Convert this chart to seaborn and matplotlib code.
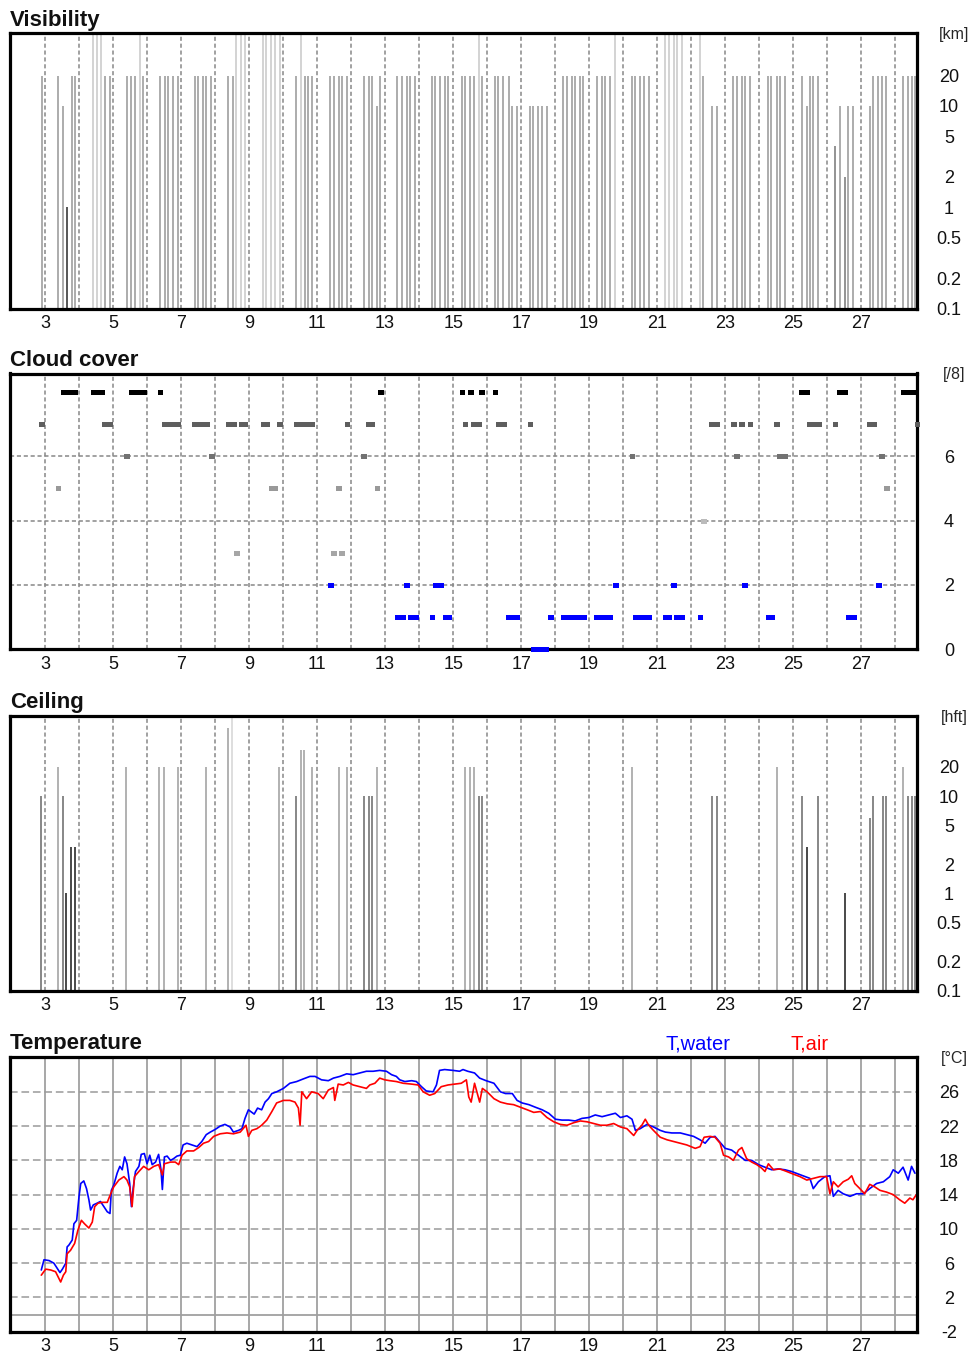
import matplotlib
matplotlib.use('Agg')
import matplotlib.pyplot as plt
import seaborn as sns

# ---- Visibility [km], one value per observation ----
vis_day = [2.90,
           3.39, 3.54, 3.64, 3.78, 3.88,
           4.42, 4.52, 4.66, 4.76, 4.91,
           5.40, 5.54, 5.64, 5.79, 5.89,
           6.38, 6.52, 6.62, 6.77, 6.91,
           7.40, 7.50, 7.65, 7.74, 7.89,
           8.38, 8.53, 8.62, 8.77, 8.87,
           9.41, 9.51, 9.65, 9.75, 9.90,
           10.39, 10.53, 10.63, 10.73, 10.85,
           11.39, 11.49, 11.64, 11.73, 11.88,
           12.37, 12.52, 12.61, 12.76, 12.86,
           13.35, 13.50, 13.64, 13.74, 13.89,
           14.38, 14.47, 14.62, 14.77, 14.86,
           15.26, 15.35, 15.50, 15.60, 15.75, 15.84,
           16.23, 16.33, 16.48, 16.63, 16.72, 16.87,
           17.26, 17.36, 17.51, 17.60, 17.75,
           18.24, 18.34, 18.49, 18.58, 18.73, 18.83,
           19.22, 19.37, 19.46, 19.61, 19.77,
           20.26, 20.36, 20.50, 20.60, 20.75,
           21.24, 21.34, 21.48, 21.58, 21.73,
           22.26, 22.36, 22.61, 22.75,
           23.24, 23.34, 23.49, 23.58, 23.73,
           24.27, 24.36, 24.51, 24.61, 24.76,
           25.25, 25.40, 25.49, 25.59, 25.74,
           26.23, 26.37, 26.52, 26.62, 26.77,
           27.25, 27.35, 27.50, 27.60, 27.74,
           28.23, 28.38, 28.48, 28.58]
vis_km = [20,
          20, 10, 1, 20, 20,
          50, 50, 50, 20, 20,
          20, 20, 20, 50, 20,
          20, 20, 20, 20, 20,
          20, 20, 20, 20, 20,
          20, 20, 50, 50, 50,
          50, 50, 50, 50, 50,
          20, 50, 20, 20, 20,
          20, 20, 20, 20, 20,
          20, 20, 20, 10, 20,
          20, 20, 20, 20, 20,
          20, 20, 20, 20, 20,
          20, 20, 20, 20, 50, 20,
          20, 20, 20, 20, 10, 10,
          10, 10, 10, 10, 10,
          20, 20, 20, 20, 20, 20,
          20, 20, 20, 20, 50,
          20, 20, 20, 20, 20,
          50, 50, 50, 50, 50,
          50, 20, 10, 10,
          20, 20, 20, 20, 20,
          20, 20, 20, 20, 20,
          20, 10, 20, 20, 20,
          4, 10, 2, 10, 10,
          10, 20, 20, 20, 20,
          20, 20, 20, 20]

# ---- Cloud cover [/8] ----
cloud_day = [3.53, 3.63, 3.78, 3.88, 4.42, 4.52, 4.66, 5.54, 5.64, 5.79, 5.89, 6.38,
             12.86, 15.26, 15.50, 15.84, 16.23, 25.25, 25.40, 26.37, 26.52,
             28.23, 28.38, 28.48, 28.58,
             2.90, 4.76, 4.91, 6.52, 6.62, 6.77, 6.91, 7.40, 7.50, 7.65, 7.74,
             8.38, 8.53, 8.77, 8.87, 9.41, 9.51, 9.90, 10.39, 10.53, 10.63, 10.73,
             10.83, 11.88, 12.52, 12.61, 15.35, 15.60, 15.75, 16.33, 16.48, 17.26,
             22.61, 22.75, 23.24, 23.49, 23.73, 24.51, 25.49, 25.59, 25.74, 26.23,
             27.25, 27.35, 28.64,
             5.40, 7.89, 12.37, 20.26, 23.34, 24.61, 24.76, 27.60,
             3.38, 9.65, 9.75, 11.64, 12.76, 27.74,
             22.36,
             8.62, 11.49, 11.73,
             11.39, 13.64, 14.47, 14.62, 19.77, 21.48, 23.58, 27.50,
             13.35, 13.50, 13.74, 13.89, 14.38, 14.77, 14.86, 16.63, 16.72, 16.87,
             17.86, 18.24, 18.34, 18.49, 18.58, 18.73, 18.83, 19.22, 19.37, 19.46,
             19.61, 20.36, 20.50, 20.60, 20.75, 21.24, 21.34, 21.58, 21.73, 22.26,
             24.27, 24.36, 26.62, 26.77,
             17.36, 17.51, 17.60, 17.72]
cloud_okta = [8, 8, 8, 8, 8, 8, 8, 8, 8, 8, 8, 8,
              8, 8, 8, 8, 8, 8, 8, 8, 8,
              8, 8, 8, 8,
              7, 7, 7, 7, 7, 7, 7, 7, 7, 7, 7,
              7, 7, 7, 7, 7, 7, 7, 7, 7, 7, 7,
              7, 7, 7, 7, 7, 7, 7, 7, 7, 7,
              7, 7, 7, 7, 7, 7, 7, 7, 7, 7,
              7, 7, 7,
              6, 6, 6, 6, 6, 6, 6, 6,
              5, 5, 5, 5, 5, 5,
              4,
              3, 3, 3,
              2, 2, 2, 2, 2, 2, 2, 2,
              1, 1, 1, 1, 1, 1, 1, 1, 1, 1,
              1, 1, 1, 1, 1, 1, 1, 1, 1, 1,
              1, 1, 1, 1, 1, 1, 1, 1, 1, 1,
              1, 1, 1, 1,
              0, 0, 0, 0]

# ---- Ceiling [hft] ----
ceil_day = [2.89, 3.38, 3.53, 3.63, 3.77, 3.87, 5.39, 6.36, 6.51, 6.90, 7.73,
            8.37, 8.51, 9.88, 10.37, 10.52, 10.62, 10.86, 11.64, 11.89,
            12.37, 12.52, 12.62, 12.77, 15.36, 15.51, 15.61, 15.75, 15.85,
            20.26, 22.61, 22.75, 24.51, 25.25, 25.40, 25.74, 26.52,
            27.25, 27.35, 27.64, 27.74, 28.23, 28.38, 28.48, 28.58]
ceil_hft = [10, 20, 10, 1, 3, 3, 20, 20, 20, 20, 20,
            50, 100, 20, 10, 30, 30, 20, 20, 20,
            10, 10, 10, 20, 20, 20, 20, 10, 10,
            20, 10, 10, 20, 10, 3, 10, 1,
            6, 10, 10, 10, 20, 10, 10, 10]

# ---- Temperature [°C] ----
water_day = [2.89, 2.97, 3.12, 3.26, 3.36, 3.44, 3.51, 3.61, 3.65, 3.70,
             3.80, 3.85, 3.93, 4.00, 4.05, 4.14, 4.22, 4.29, 4.34, 4.42,
             4.53, 4.63, 4.73, 4.83, 4.91, 4.95, 5.02, 5.12, 5.20, 5.27,
             5.34, 5.41, 5.49, 5.54, 5.59, 5.66, 5.76, 5.83, 5.92, 6.00,
             6.08, 6.15, 6.25, 6.34, 6.41, 6.45, 6.51, 6.59, 6.69, 6.78,
             6.88, 6.98, 7.06, 7.17, 7.32, 7.47, 7.61, 7.74, 7.86, 8.00,
             8.15, 8.29, 8.44, 8.54, 8.69, 8.79, 8.88, 8.98, 9.05, 9.15,
             9.25, 9.37, 9.47, 9.57, 9.67, 9.81, 10.01, 10.20, 10.40, 10.59,
             10.79, 10.94, 11.13, 11.33, 11.48, 11.67, 11.87, 12.06, 12.26, 12.45,
             12.65, 12.84, 13.04, 13.19, 13.33, 13.43, 13.58, 13.78, 13.92, 14.07,
             14.21, 14.41, 14.51, 14.60, 14.75, 15.00, 15.19, 15.29, 15.43, 15.63,
             15.78, 15.97, 16.20, 16.39, 16.54, 16.74, 16.88, 17.03, 17.23, 17.42,
             17.62, 17.81, 18.01, 18.20, 18.40, 18.59, 18.79, 18.99, 19.18, 19.38,
             19.57, 19.77, 19.92, 20.11, 20.26, 20.36, 20.50, 20.70, 20.89, 21.09,
             21.24, 21.43, 21.68, 21.87, 22.07, 22.26, 22.41, 22.56, 22.70, 22.85,
             23.00, 23.19, 23.39, 23.59, 23.78, 23.98, 24.17, 24.37, 24.56, 24.76,
             24.95, 25.15, 25.35, 25.49, 25.59, 25.74, 25.93, 26.08, 26.18, 26.32,
             26.47, 26.67, 26.86, 27.06, 27.25, 27.45, 27.65, 27.84, 27.94, 28.09,
             28.23, 28.38, 28.48, 28.58]
water_temp = [5.2, 6.4, 6.3, 6.0, 5.4, 4.9, 5.3, 6.0, 7.9, 8.1,
              8.7, 10.6, 11.0, 13.8, 15.3, 15.6, 14.7, 13.4, 12.2, 12.8,
              13.0, 13.2, 12.6, 12.0, 11.8, 14.5, 15.1, 16.5, 17.3, 16.9,
              18.4, 17.6, 15.3, 12.6, 14.7, 16.7, 17.3, 18.7, 18.8, 17.6,
              18.6, 17.5, 17.8, 18.7, 16.9, 14.6, 18.4, 18.5, 18.0, 18.2,
              18.5, 18.6, 19.8, 20.0, 19.8, 19.6, 20.2, 21.0, 21.3, 21.6,
              22.0, 22.2, 21.9, 21.3, 21.5, 21.7, 22.9, 23.9, 23.7, 23.4,
              24.1, 23.9, 24.8, 25.2, 25.8, 26.0, 26.4, 27.0, 27.2, 27.5,
              27.8, 27.8, 27.4, 27.3, 27.6, 27.8, 28.1, 28.0, 28.2, 28.4,
              28.4, 28.5, 28.4, 28.0, 27.8, 27.4, 27.2, 27.3, 27.2, 26.6,
              26.1, 26.0, 26.8, 28.5, 28.6, 28.5, 28.4, 28.6, 28.4, 28.2,
              27.6, 27.3, 27.0, 26.0, 25.8, 25.8, 25.0, 24.7, 24.5, 24.2,
              23.9, 23.5, 22.8, 22.7, 22.7, 22.6, 22.9, 23.0, 23.3, 23.1,
              23.3, 23.5, 23.0, 23.2, 22.8, 21.5, 21.7, 22.2, 21.9, 21.5,
              21.3, 21.2, 21.2, 21.0, 20.8, 20.4, 20.0, 20.7, 20.8, 20.1,
              19.4, 19.2, 18.6, 18.0, 18.0, 17.5, 17.2, 16.9, 17.0, 16.9,
              16.7, 16.4, 16.1, 15.9, 14.7, 15.5, 16.1, 16.2, 13.8, 14.5,
              14.1, 13.8, 14.1, 14.1, 14.7, 15.3, 15.5, 16.1, 16.9, 16.5,
              17.2, 15.7, 17.3, 16.5]
air_day = [2.89, 3.02, 3.17, 3.31, 3.41, 3.46, 3.54, 3.61, 3.65, 3.75,
           3.87, 3.97, 4.07, 4.16, 4.29, 4.39, 4.46, 4.56, 4.68, 4.83,
           4.93, 5.02, 5.17, 5.32, 5.41, 5.49, 5.56, 5.63, 5.76, 5.90,
           6.05, 6.20, 6.34, 6.45, 6.51, 6.69, 6.83, 6.93, 7.03, 7.17,
           7.37, 7.52, 7.66, 7.81, 7.96, 8.15, 8.35, 8.54, 8.74, 8.91,
           8.98, 9.08, 9.23, 9.37, 9.52, 9.67, 9.81, 10.01, 10.20, 10.35,
           10.45, 10.50, 10.55, 10.69, 10.84, 11.03, 11.18, 11.33, 11.48, 11.52,
           11.62, 11.77, 11.92, 12.06, 12.26, 12.45, 12.55, 12.70, 12.84, 12.99,
           13.14, 13.33, 13.53, 13.78, 13.97, 14.12, 14.31, 14.46, 14.65, 14.85,
           15.04, 15.24, 15.39, 15.46, 15.53, 15.63, 15.78, 15.86, 16.00, 16.20,
           16.39, 16.59, 16.78, 16.98, 17.18, 17.37, 17.57, 17.76, 17.96, 18.15,
           18.35, 18.55, 18.74, 18.94, 19.13, 19.33, 19.52, 19.72, 19.92, 20.11,
           20.31, 20.41, 20.55, 20.65, 20.75, 20.89, 21.09, 21.29, 21.48, 21.68,
           21.87, 22.12, 22.26, 22.38, 22.56, 22.70, 22.85, 22.95, 23.10, 23.24,
           23.39, 23.49, 23.63, 23.78, 23.93, 24.07, 24.17, 24.27, 24.42, 24.61,
           24.81, 25.00, 25.20, 25.40, 25.59, 25.79, 25.98, 26.08, 26.18, 26.32,
           26.47, 26.62, 26.72, 26.81, 26.96, 27.10, 27.25, 27.40, 27.55, 27.74,
           27.94, 28.13, 28.28, 28.43, 28.52, 28.62]
air_temp = [4.6, 5.3, 5.2, 5.0, 4.2, 3.8, 4.6, 5.0, 7.1, 7.5,
            8.3, 9.9, 11.0, 10.6, 10.1, 10.8, 12.6, 13.0, 13.1, 13.1,
            14.1, 14.9, 15.7, 16.1, 15.7, 14.9, 12.6, 16.1, 16.7, 17.3,
            16.9, 17.3, 17.5, 16.3, 17.6, 17.8, 17.8, 17.5, 18.6, 19.1,
            19.1, 19.5, 20.0, 20.2, 20.8, 21.1, 21.2, 21.1, 21.3, 22.1,
            20.8, 21.5, 21.7, 22.1, 22.7, 23.7, 24.7, 25.0, 25.0, 24.8,
            24.1, 22.1, 26.0, 25.2, 26.0, 25.8, 25.2, 26.2, 26.5, 25.0,
            26.9, 26.8, 27.1, 26.8, 26.6, 26.4, 26.8, 27.0, 27.6, 27.4,
            27.3, 27.2, 27.0, 26.9, 26.8, 26.0, 25.6, 25.8, 26.6, 26.8,
            26.9, 27.0, 27.4, 25.4, 24.8, 27.0, 24.8, 26.4, 26.0, 25.2,
            24.8, 24.6, 24.5, 24.2, 23.9, 23.6, 23.7, 23.0, 22.5, 22.2,
            22.1, 22.4, 22.6, 22.5, 22.3, 22.1, 22.1, 22.3, 21.9, 21.7,
            20.9, 21.5, 22.1, 22.8, 22.1, 21.5, 20.7, 20.4, 20.2, 20.0,
            19.8, 19.4, 19.6, 20.7, 20.8, 20.7, 20.0, 18.6, 18.4, 18.0,
            19.2, 19.5, 18.2, 17.8, 17.5, 17.1, 16.7, 17.6, 16.9, 17.0,
            16.7, 16.4, 16.1, 15.7, 15.9, 16.1, 16.1, 14.1, 15.5, 14.9,
            15.5, 15.8, 16.2, 15.3, 14.7, 14.1, 15.2, 14.9, 14.5, 14.3,
            14.0, 13.4, 13.0, 13.6, 13.4, 14.0]

day_ticks = list(range(2, 29))
log_ticks = [0.1, 0.2, 0.5, 1, 2, 5, 10, 20]
log_labels = ['0.1', '0.2', '0.5', '1', '2', '5', '10', '20']
cloud_ticks = [0, 2, 4, 6]
temp_ticks = [-2, 2, 6, 10, 14, 18, 22, 26]

sns.set_theme(style='white')
plt.rcParams['font.family'] = ['Liberation Sans', 'DejaVu Sans']

fig = plt.figure(figsize=(9.74, 13.58), dpi=100)
FW, FH = 974, 1358


def panel(top, bottom):
    return fig.add_axes([10 / FW, 1 - bottom / FH, 907 / FW, (bottom - top) / FH])


def style(ax, title, unit, yticks, ylabels):
    ax.set_xlim(1.97, 28.64)
    ax.set_xticks(day_ticks)
    ax.set_xticklabels([str(d) if d % 2 else '' for d in day_ticks])
    ax.yaxis.tick_right()
    ax.set_yticks(yticks)
    ax.set_yticklabels(ylabels, ha='center')
    ax.minorticks_off()
    ax.tick_params(axis='both', length=0, labelsize=13, colors='#111111')
    ax.tick_params(axis='x', pad=4.5)
    ax.tick_params(axis='y', pad=23)
    ax.set_xlabel('')
    ax.set_ylabel('')
    for s in ax.spines.values():
        s.set_visible(True)
        s.set_linewidth(2.3)
        s.set_color('black')
    ax.annotate(title, xy=(0, 1), xycoords='axes fraction', xytext=(0, 5.5),
                textcoords='offset points', fontsize=16, fontweight='bold',
                ha='left', va='baseline', color='#111111')
    ax.text(1.0413, 0.995, unit, transform=ax.transAxes, ha='center',
            va='center', fontsize=11.5)
    ax.set_axisbelow(True)


dash_grid = dict(color='#888888', linestyle=(0, (2.7, 1.8)), linewidth=1.1)


def vis_color(v):
    if v >= 50:
        return '#cccccc'
    if v >= 10:
        return '#9e9e9e'
    if v >= 2:
        return '#808080'
    return '#3a3a3a'


def ceil_color(v):
    if v >= 100:
        return '#d8d8d8'
    if v >= 20:
        return '#a4a4a4'
    if v >= 5:
        return '#737373'
    return '#2a2a2a'


cloud_colors = {8: '#000000', 7: '#5e5e5e', 6: '#727272', 5: '#999999',
                4: '#bbbbbb', 3: '#a6a6a6', 2: '#0000ff', 1: '#0000ff', 0: '#0000ff'}

# Visibility
ax1 = panel(33.5, 308.5)
ax1.set_yscale('log')
ax1.set_ylim(0.1, 52)
ax1.grid(axis='x', **dash_grid)
ax1.vlines(vis_day, 0.09, vis_km, colors=[vis_color(v) for v in vis_km], lw=1.2)
style(ax1, 'Visibility', '[km]', log_ticks, log_labels)

# Cloud cover
ax2 = panel(373.5, 649.3)
ax2.set_ylim(0, 8.57)
ax2.grid(axis='both', **dash_grid)
ax2.hlines(cloud_okta, [d - 0.072 for d in cloud_day], [d + 0.072 for d in cloud_day],
           colors=[cloud_colors[o] for o in cloud_okta], lw=3.4, clip_on=False,
           zorder=5, antialiased=False)
style(ax2, 'Cloud cover', '[/8]', cloud_ticks, [str(t) for t in cloud_ticks])

# Ceiling
ax3 = panel(715.7, 990.7)
ax3.set_yscale('log')
ax3.set_ylim(0.1, 67)
ax3.grid(axis='x', **dash_grid)
ax3.vlines(ceil_day, 0.09, ceil_hft, colors=[ceil_color(v) for v in ceil_hft], lw=1.2)
style(ax3, 'Ceiling', '[hft]', log_ticks, log_labels)

# Temperature
ax4 = panel(1056.7, 1331.7)
ax4.set_ylim(-2, 30.1)
ax4.grid(axis='x', color='#a0a0a0', linestyle='-', linewidth=1.3)
ax4.grid(axis='y', color='#9a9a9a', linestyle=(0, (5, 2.5)), linewidth=1.1)
ax4.axhline(0, color='#a0a0a0', lw=1.3, zorder=0.5)
sns.lineplot(x=water_day, y=water_temp, ax=ax4, color='#0000ff', lw=1.2,
             sort=False, estimator=None)
sns.lineplot(x=air_day, y=air_temp, ax=ax4, color='#ff0000', lw=1.2,
             sort=False, estimator=None)
style(ax4, 'Temperature', '[°C]', temp_ticks, [str(t) for t in temp_ticks])
ax4.annotate('T,water', xy=(0.7585, 1), xycoords='axes fraction', xytext=(0, 5.5),
             textcoords='offset points', fontsize=14.5, color='#0000ff',
             ha='center', va='baseline')
ax4.annotate('T,air', xy=(0.882, 1), xycoords='axes fraction', xytext=(0, 5.5),
             textcoords='offset points', fontsize=14.5, color='#ff0000',
             ha='center', va='baseline')

fig.savefig('out.png', dpi=100)
